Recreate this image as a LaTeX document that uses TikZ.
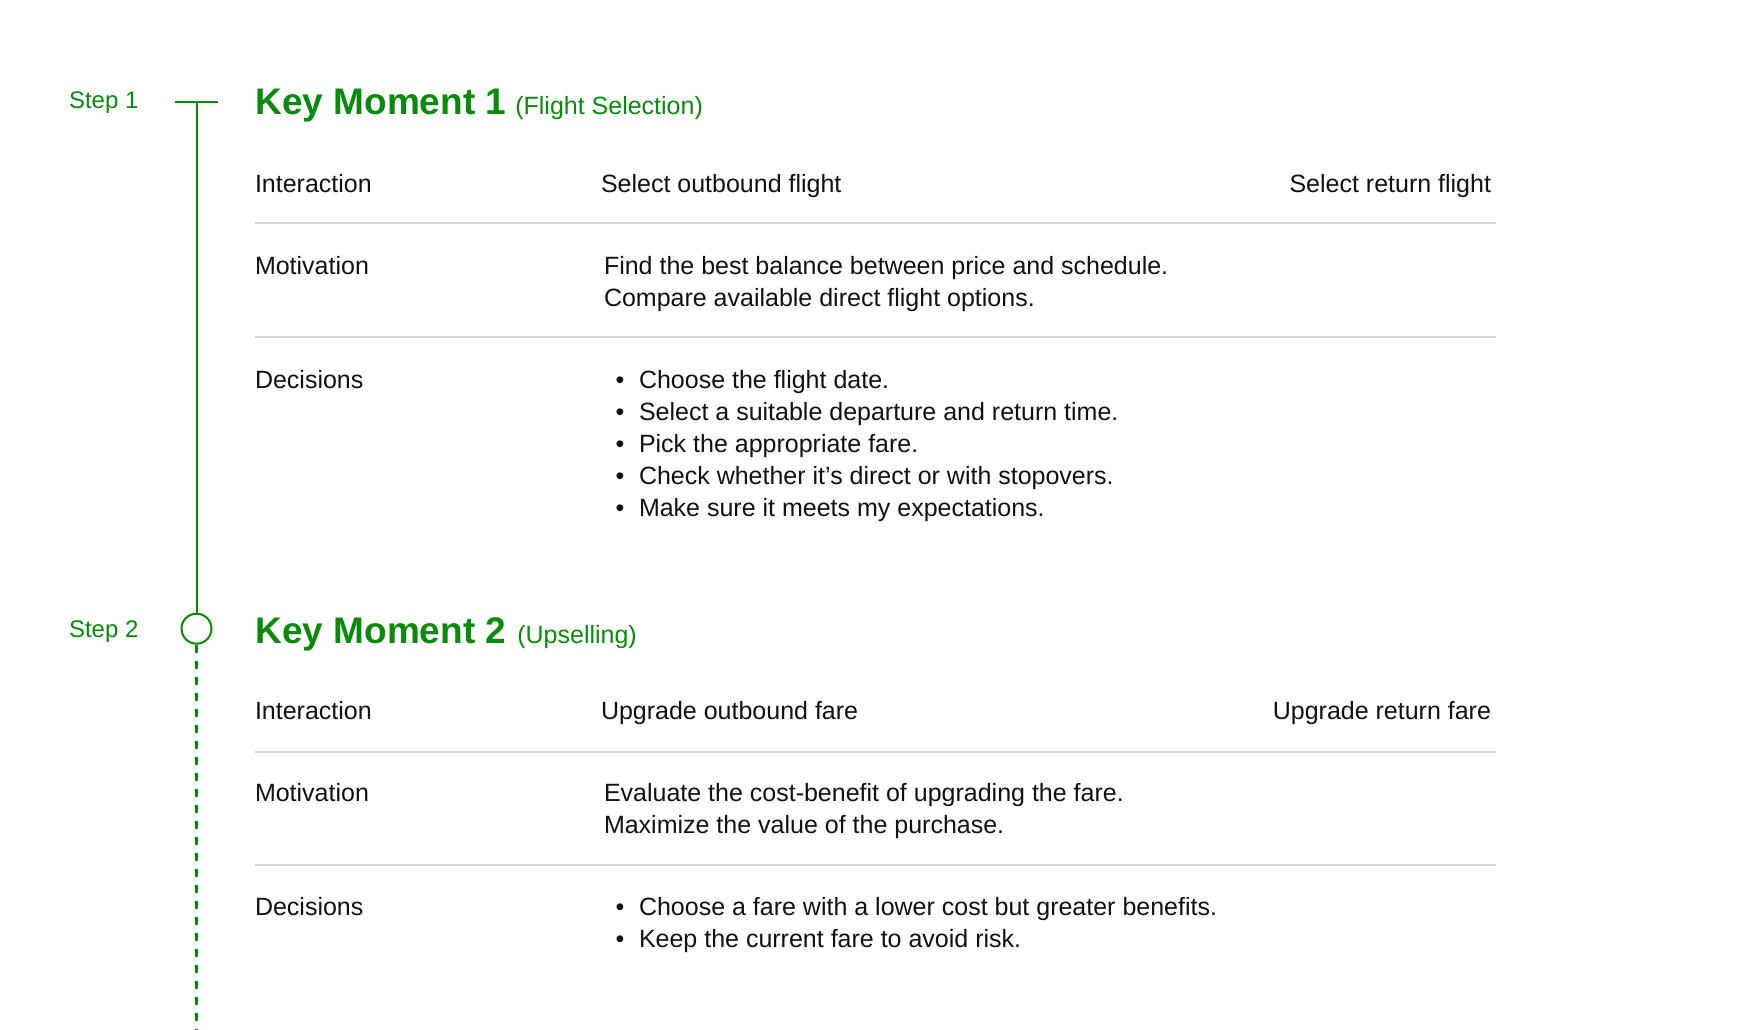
\documentclass[tikz,border=0pt]{standalone}
\usepackage{fontspec}
\setmainfont{Liberation Sans}
\definecolor{kmgreen}{HTML}{0A8A0A}
\definecolor{ink}{HTML}{111111}
\definecolor{rulegray}{HTML}{D6D6D6}
\begin{document}
\begin{tikzpicture}[x=1pt,y=-1pt,
  body/.style={font=\fontsize{25}{30}\selectfont, text=ink, inner sep=0pt, outer sep=0pt, anchor=base west},
  bodyR/.style={body, anchor=base east},
  bul/.style={font=\fontsize{25}{30}\selectfont, text=ink, inner sep=0pt, outer sep=0pt, anchor=base},
  steplabel/.style={font=\fontsize{24}{28}\selectfont, text=kmgreen, inner sep=0pt, outer sep=0pt, anchor=base west},
  kmtitle/.style={font=\fontsize{37}{44}\selectfont\bfseries, text=kmgreen, inner sep=0pt, outer sep=0pt, anchor=base west},
  kmsub/.style={font=\fontsize{25}{30}\selectfont, text=kmgreen, inner sep=0pt, outer sep=0pt, anchor=base west},
  rowrule/.style={draw=rulegray, line width=2pt},
  timeline/.style={draw=kmgreen, line width=2pt},
  timedash/.style={draw=kmgreen, line width=2.2pt, dash pattern=on 8pt off 8pt}]
\useasboundingbox (0,0) rectangle (1751,1030);

% ---------- timeline ----------
\coordinate (tickL) at (175,101.6);
\coordinate (tickR) at (218,101.6);
\coordinate (tickC) at (196.5,101.6);
\node[circle, draw=kmgreen, line width=2pt, minimum size=30pt, inner sep=0pt] (circ2) at (196.5,628.7) {};
\coordinate (lineEnd) at (196.5,1030);
\draw[timeline] (tickL) -- (tickR);
\draw[timeline] (tickC) -- (circ2.north);
\draw[timedash] (circ2.south) -- (lineEnd);

% ---------- Key Moment 1 ----------
\node[steplabel] (step1) at (69,109) {Step 1};
\node[kmtitle] (km1) at (255.5,115) {Key Moment 1};
\node[kmsub] (km1sub) at ([xshift=9pt]km1.base east) {(Flight Selection)};

\node[body] (int1) at (255,192) {Interaction};
\node[body] (int1a) at (601,192) {Select outbound flight};
\node[bodyR] (int1b) at (1491,192) {Select return flight};
\coordinate (r1a) at (255,223.4);
\coordinate (r1b) at (1496,223.4);
\draw[rowrule] (r1a) -- (r1b);

\node[body] (mot1) at (255,274) {Motivation};
\node[body] (mot1a) at (604,274) {Find the best balance between price and schedule.};
\node[body] (mot1b) at (604,306) {Compare available direct flight options.};
\coordinate (r2a) at (255,337);
\coordinate (r2b) at (1496,337);
\draw[rowrule] (r2a) -- (r2b);

\node[body] (dec1) at (255,388) {Decisions};
\node[bul] (b1a) at (620,388) {•};
\node[body] (d1a) at (639,388) {Choose the flight date.};
\node[bul] (b1b) at (620,420) {•};
\node[body] (d1b) at (639,420) {Select a suitable departure and return time.};
\node[bul] (b1c) at (620,452) {•};
\node[body] (d1c) at (639,452) {Pick the appropriate fare.};
\node[bul] (b1d) at (620,484) {•};
\node[body] (d1d) at (639,484) {Check whether it’s direct or with stopovers.};
\node[bul] (b1e) at (620,516) {•};
\node[body] (d1e) at (639,516) {Make sure it meets my expectations.};

% ---------- Key Moment 2 ----------
\node[steplabel] (step2) at (69,637) {Step 2};
\node[kmtitle] (km2) at (255.5,643) {Key Moment 2};
\node[kmsub] (km2sub) at ([xshift=11pt]km2.base east) {(Upselling)};

\node[body] (int2) at (255,719.5) {Interaction};
\node[body] (int2a) at (601,719.5) {Upgrade outbound fare};
\node[bodyR] (int2b) at (1491,719.5) {Upgrade return fare};
\coordinate (r3a) at (255,751.5);
\coordinate (r3b) at (1496,751.5);
\draw[rowrule] (r3a) -- (r3b);

\node[body] (mot2) at (255,801) {Motivation};
\node[body] (mot2a) at (604,801) {Evaluate the cost-benefit of upgrading the fare.};
\node[body] (mot2b) at (604,833) {Maximize the value of the purchase.};
\coordinate (r4a) at (255,865.4);
\coordinate (r4b) at (1496,865.4);
\draw[rowrule] (r4a) -- (r4b);

\node[body] (dec2) at (255,915) {Decisions};
\node[bul] (b2a) at (620,915) {•};
\node[body] (d2a) at (639,915) {Choose a fare with a lower cost but greater benefits.};
\node[bul] (b2b) at (620,947) {•};
\node[body] (d2b) at (639,947) {Keep the current fare to avoid risk.};
\end{tikzpicture}
\end{document}
